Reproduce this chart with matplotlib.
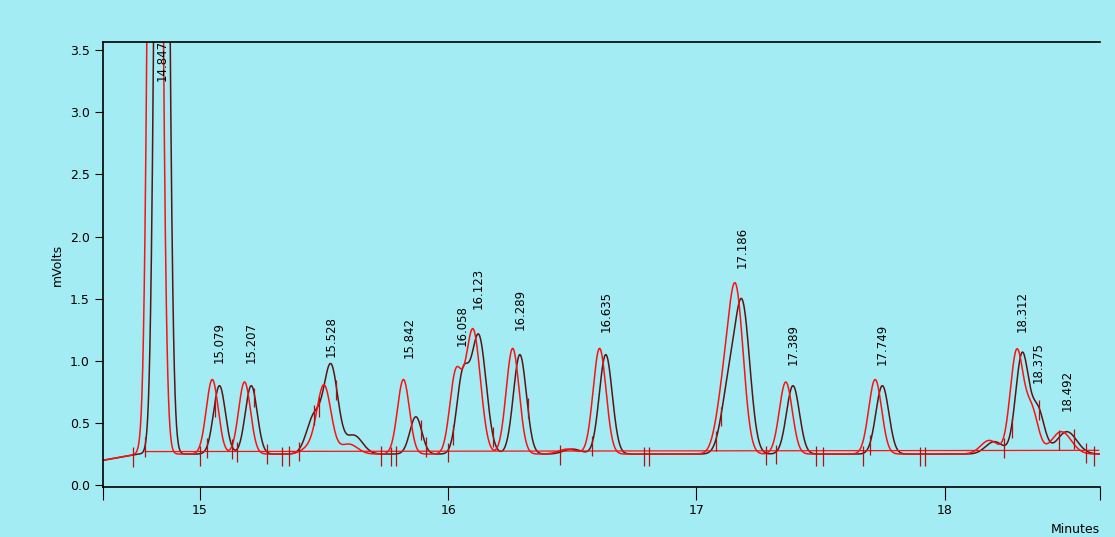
import numpy as np
import matplotlib
matplotlib.use('Agg')
import matplotlib.pyplot as plt

# peak tables: centre (min), height above baseline (mV), sigma (min)
dark_centres = [14.847, 15.079, 15.207, 15.46, 15.528, 15.62, 15.87, 16.058, 16.123, 16.289,
                16.50, 16.635, 17.13, 17.186, 17.389, 17.749, 18.20, 18.312, 18.375, 18.492]
dark_heights = [12.0, 0.55, 0.55, 0.3, 0.7, 0.15, 0.3, 0.6, 0.95, 0.8,
                0.04, 0.8, 0.5, 1.15, 0.55, 0.55, 0.1, 0.8, 0.35, 0.18]
dark_sigmas = [0.021, 0.024, 0.024, 0.03, 0.028, 0.035, 0.024, 0.024, 0.03, 0.026,
               0.035, 0.026, 0.03, 0.03, 0.026, 0.026, 0.035, 0.026, 0.026, 0.04]

red_centres = [14.82, 15.05, 15.18, 15.44, 15.50, 15.60, 15.82, 16.03, 16.10, 16.26,
               16.48, 16.61, 17.11, 17.16, 17.36, 17.72, 18.18, 18.29, 18.35, 18.47]
red_heights = [12.0, 0.6, 0.58, 0.05, 0.55, 0.08, 0.6, 0.62, 1.0, 0.85,
               0.04, 0.85, 0.45, 1.25, 0.58, 0.6, 0.11, 0.82, 0.35, 0.18]
red_sigmas = dark_sigmas

# baseline (start/end values) and integration baseline
base_t = [14.61, 14.75, 18.625]
base_v = [0.2, 0.25, 0.25]
int_t = [14.78, 18.62]
int_v = [0.27, 0.28]

# integration marks (times)
marks = [14.73, 14.78, 15.0, 15.03, 15.06, 15.13, 15.15, 15.22, 15.27, 15.33, 15.36, 15.4,
         15.46, 15.48, 15.55, 15.73, 15.77, 15.79, 15.89, 15.91, 16.0, 16.02, 16.18, 16.32,
         16.45, 16.58, 16.79, 16.81, 17.08, 17.10, 17.28, 17.32, 17.48, 17.51, 17.67,
         17.70, 17.90, 17.92, 18.24, 18.27, 18.38, 18.46, 18.52, 18.57, 18.6]

labels = ['14.847', '15.079', '15.207', '15.528', '15.842', '16.058', '16.123', '16.289',
          '16.635', '17.186', '17.389', '17.749', '18.312', '18.375', '18.492']
label_t = [14.847, 15.079, 15.207, 15.528, 15.842, 16.058, 16.123, 16.289,
           16.635, 17.186, 17.389, 17.749, 18.312, 18.375, 18.492]
label_y = [3.58, 0.98, 0.98, 1.03, 1.02, 1.12, 1.42, 1.25, 1.23, 1.75, 0.97, 0.97, 1.23, 0.82, 0.6]

t = np.linspace(14.61, 18.625, 4000)


def trace(centres, heights, sigmas):
    y = np.interp(t, base_t, base_v)
    for c, h, s in zip(centres, heights, sigmas):
        y = y + h * np.exp(-0.5 * ((t - c) / s) ** 2)
    return y


bg = '#a3ecf3'
fig = plt.figure(figsize=(11.15, 5.37), dpi=100, facecolor=bg)
ax = fig.add_axes([0.0924, 0.0931, 0.894, 0.8287], facecolor=bg)

dark = trace(dark_centres, dark_heights, dark_sigmas)
ax.plot(t, dark, color='#5a1414', lw=1.1)
ax.plot(t, trace(red_centres, red_heights, red_sigmas), color='#ff1010', lw=1.1)
ax.plot(int_t, int_v, color='#ff1010', lw=0.9)
yb = np.interp(marks, t, dark)
ax.vlines(marks, yb - 0.1, yb + 0.06, color='#b01010', lw=0.9)

for s, x, y in zip(labels, label_t, label_y):
    ax.text(x, y, s, rotation=90, ha='center', va='top' if y > 3 else 'bottom',
            fontsize=8.5, color='black')

ax.set_xlim(14.61, 18.625)
ax.set_ylim(-0.015, 3.565)
ax.set_xticks([14.61, 15, 16, 17, 18, 18.625])
ax.set_xticklabels(['', '15', '16', '17', '18', ''])
ax.set_yticks(np.arange(0, 3.6, 0.5))
ax.set_yticklabels(['%.1f' % v for v in np.arange(0, 3.6, 0.5)])
ax.tick_params(direction='out', length=6, labelsize=9, colors='black')
ax.tick_params(axis='x', length=9)
ax.spines['right'].set_visible(False)
for sp in ['left', 'bottom', 'top']:
    ax.spines[sp].set_linewidth(1.2)
ax.set_ylabel('mVolts', fontsize=9)
ax.text(1.0, -0.08, 'Minutes', transform=ax.transAxes, ha='right', va='top', fontsize=9)

fig.savefig('out.png', dpi=100, facecolor=bg)
